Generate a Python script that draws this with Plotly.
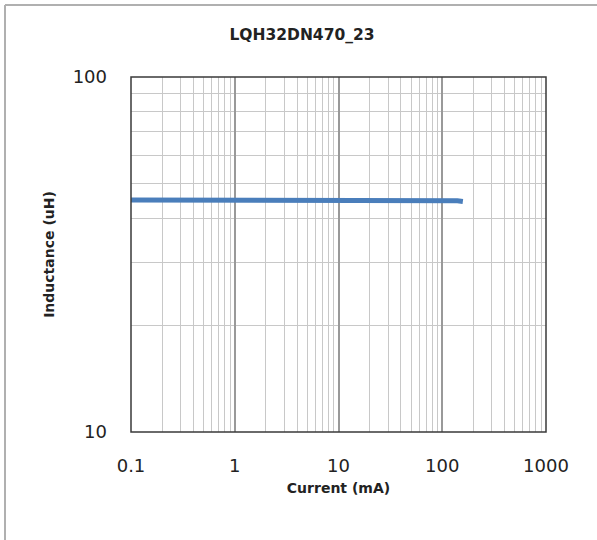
import plotly.graph_objects as go

current_mA = [0.1, 0.2, 0.5, 1, 2, 5, 10, 20, 50, 100, 120, 140, 158]
inductance_uH = [45.0, 45.0, 45.0, 45.0, 45.1, 45.1, 45.1, 45.1, 45.1, 45.0, 44.95, 44.8, 44.6]

title_text = "LQH32DN470_23"
x_title = "Current (mA)"
y_title = "Inductance (uH)"
x_ticks = [0.1, 1, 10, 100, 1000]
x_ticklabels = ["0.1", "1", "10", "100", "1000"]
y_ticks = [10, 100]
y_ticklabels = ["10", "100"]

W, H = 597, 540
L, R, T, B = 131, 51, 77, 108
PW, PH = W - L - R, H - T - B

fig = go.Figure()
fig.add_trace(go.Scatter(
    x=current_mA, y=inductance_uH, mode="lines",
    line=dict(color="#4a7ebb", width=5), showlegend=False,
))

grid_major = "#999999"
grid_minor = "#c8c8c8"
tickfont = dict(family="DejaVu Sans", size=18, color="#222222")
titlefont = dict(family="DejaVu Sans", size=14, color="#222222")

fig.update_layout(
    width=W, height=H,
    margin=dict(l=L, r=R, t=T, b=B),
    paper_bgcolor="white", plot_bgcolor="white",
    title=dict(text="<b>" + title_text + "</b>", x=302 / W, xref="container", xanchor="center",
               y=1 - 35 / H, yref="container", yanchor="middle",
               font=dict(family="DejaVu Sans", size=15.5, color="#222222")),
    xaxis=dict(
        type="log", range=[-1, 3], tickvals=x_ticks, ticktext=x_ticklabels,
        showgrid=True, gridcolor=grid_major, gridwidth=1.5,
        minor=dict(showgrid=True, gridcolor=grid_minor, gridwidth=1, dtick="D1"),
        showline=False, zeroline=False, ticks="", tickfont=tickfont, ticklabelstandoff=21,
        title=dict(text="<b>" + x_title + "</b>", standoff=8, font=titlefont),
    ),
    yaxis=dict(
        type="log", range=[1, 2], tickvals=y_ticks, ticktext=y_ticklabels,
        showgrid=True, gridcolor=grid_major, gridwidth=1.5,
        minor=dict(showgrid=True, gridcolor=grid_minor, gridwidth=1, dtick="D1"),
        showline=False, zeroline=False, ticks="", tickfont=tickfont, ticklabelstandoff=23,
        title=dict(text="<b>" + y_title + "</b>", standoff=14, font=titlefont),
    ),
    shapes=[
        dict(type="rect", xref="paper", yref="paper", x0=0, x1=1, y0=0, y1=1,
             line=dict(color="#3a3a3a", width=1.5), layer="above"),
        dict(type="line", xref="paper", yref="paper",
             x0=(5 - L) / PW, x1=(W + 20 - L) / PW,
             y0=(H - B - 5) / PH, y1=(H - B - 5) / PH,
             line=dict(color="#b0b0b0", width=2)),
        dict(type="line", xref="paper", yref="paper",
             x0=(5 - L) / PW, x1=(5 - L) / PW,
             y0=-(B + 20) / PH, y1=(H - B - 5) / PH,
             line=dict(color="#b0b0b0", width=2)),
    ],
)

fig.write_html("out.html", config={"displayModeBar": False},
               post_script="document.body.style.margin='0px';")
